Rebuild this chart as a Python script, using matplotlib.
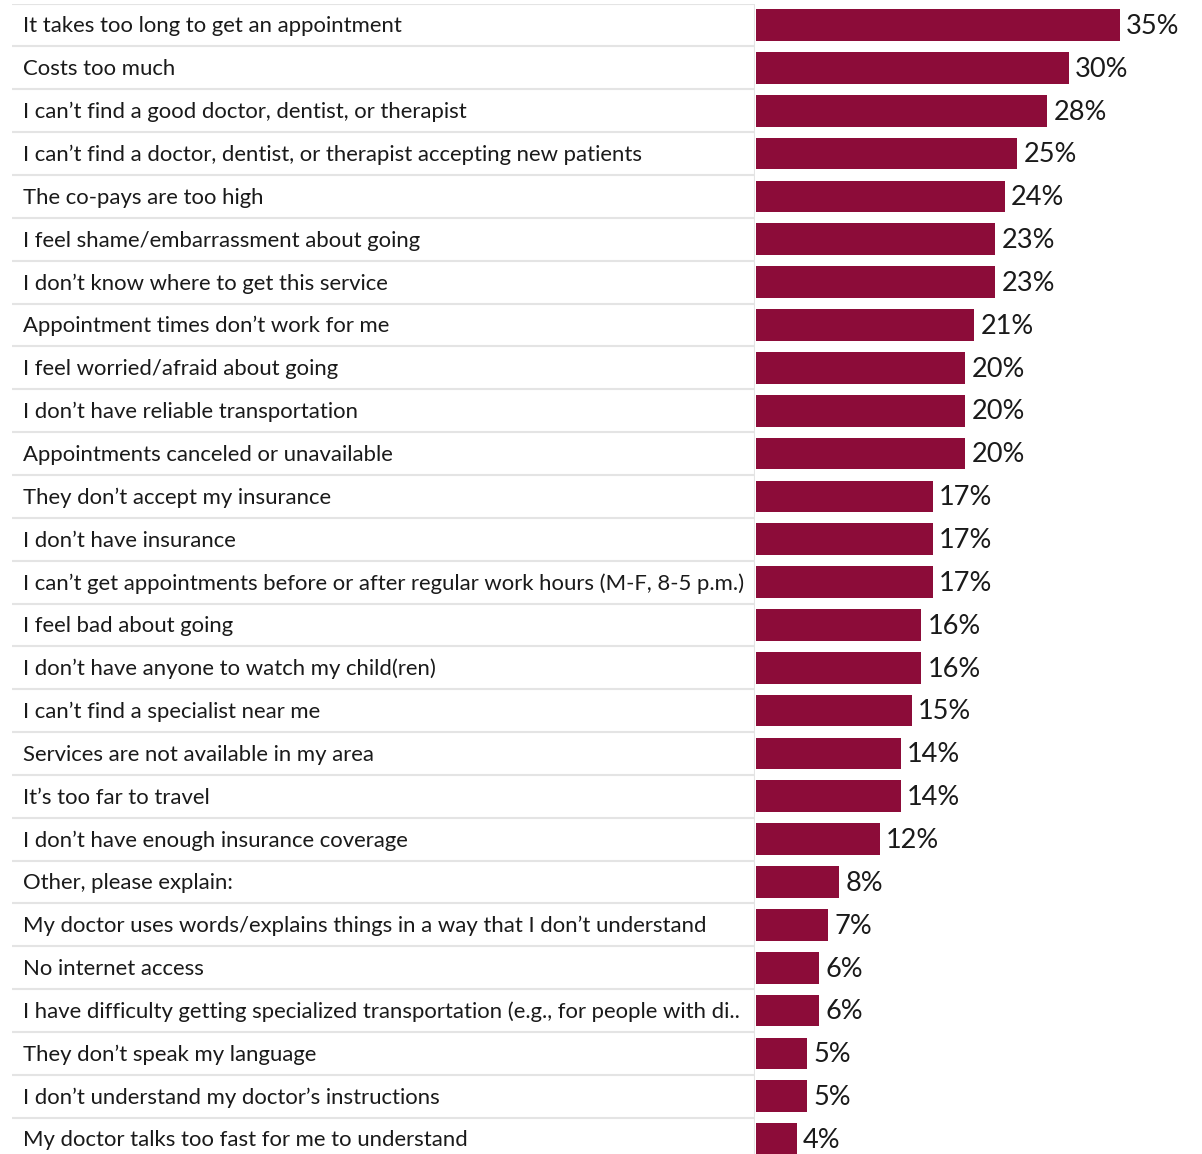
import matplotlib.pyplot as plt

labels = [
    "It takes too long to get an appointment",
    "Costs too much",
    "I can\u2019t find a good doctor, dentist, or therapist",
    "I can\u2019t find a doctor, dentist, or therapist accepting new patients",
    "The co-pays are too high",
    "I feel shame/embarrassment about going",
    "I don\u2019t know where to get this service",
    "Appointment times don\u2019t work for me",
    "I feel worried/afraid about going",
    "I don\u2019t have reliable transportation",
    "Appointments canceled or unavailable",
    "They don\u2019t accept my insurance",
    "I don\u2019t have insurance",
    "I can\u2019t get appointments before or after regular work hours (M-F, 8-5 p.m.)",
    "I feel bad about going",
    "I don\u2019t have anyone to watch my child(ren)",
    "I can\u2019t find a specialist near me",
    "Services are not available in my area",
    "It\u2019s too far to travel",
    "I don\u2019t have enough insurance coverage",
    "Other, please explain:",
    "My doctor uses words/explains things in a way that I don\u2019t understand",
    "No internet access",
    "I have difficulty getting specialized transportation (e.g., for people with di..",
    "They don\u2019t speak my language",
    "I don\u2019t understand my doctor\u2019s instructions",
    "My doctor talks too fast for me to understand",
]
values = [35.0, 30.1, 28.0, 25.1, 23.9, 23.0, 23.0, 21.0, 20.1, 20.1, 20.1,
          17.0, 17.0, 17.0, 15.9, 15.9, 15.0, 13.9, 13.9, 11.9, 8.0, 6.9,
          6.1, 6.1, 4.9, 4.9, 3.9]
pct_text = ["35%", "30%", "28%", "25%", "24%", "23%", "23%", "21%", "20%",
            "20%", "20%", "17%", "17%", "17%", "16%", "16%", "15%", "14%",
            "14%", "12%", "8%", "7%", "6%", "6%", "5%", "5%", "4%"]

W, H = 1202, 1154
bar_color = "#8c0c39"
grid_color = "#e4e4e4"
font = "Lato"

fig = plt.figure(figsize=(W / 100, H / 100), dpi=100)

n = len(labels)
row_h = 42.85
top = 3.6
bottom_px = top + n * row_h
ax_bottom = (H - bottom_px) / H
ax_height = (n * row_h) / H

ax_lab = fig.add_axes([12 / W, ax_bottom, (755 - 12) / W, ax_height])
ax_bar = fig.add_axes([756 / W, ax_bottom, (W - 756) / W, ax_height])

for ax in (ax_lab, ax_bar):
    ax.set_ylim(n, 0)
    ax.axis("off")

ax_lab.set_xlim(0, 1)
for i, lab in enumerate(labels):
    ax_lab.text(0.0148, i + 0.53, lab, va="center", ha="left",
                fontsize=15.9, family=font, color="#1a1a1a")
    ax_lab.axhline(i, color=grid_color, lw=1.5)
ax_lab.axvline(1, color=grid_color, lw=1.5)

ax_bar.set_xlim(0, (W - 756) / 10.4)
ys = [i + 0.5 for i in range(n)]
ax_bar.barh(ys, values, height=0.74, color=bar_color)
for y, v, t in zip(ys, values, pct_text):
    ax_bar.text(v + 0.6, y + 0.03, t, va="center", ha="left",
                fontsize=19.5, family=font, color="#1a1a1a")

fig.savefig("out.png", dpi=100)
